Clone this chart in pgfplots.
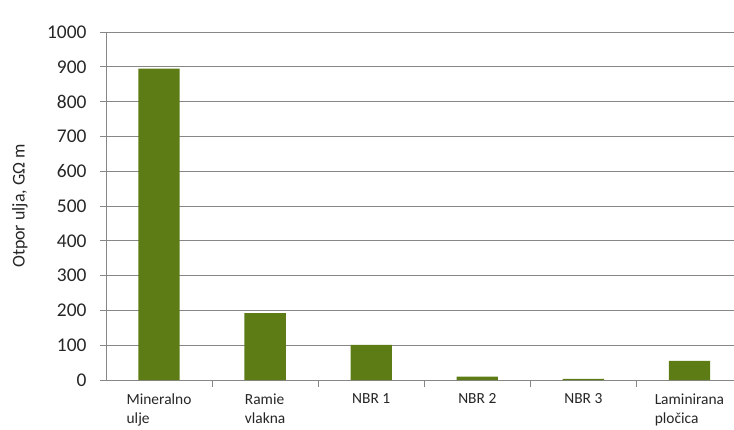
\documentclass[border=0pt]{standalone}
\usepackage{pgfplots}
\pgfplotsset{compat=1.18}
\usepackage{fontspec}
\setmainfont{Carlito}
\usetikzlibrary{calc}
\definecolor{bargreen}{RGB}{94,124,22}
\definecolor{gridgray}{RGB}{135,135,135}
\begin{document}
\begin{tikzpicture}
\begin{axis}[
  scale only axis,
  width=628bp, height=348bp,
  xmin=-0.5, xmax=5.42,
  ymin=0, ymax=1000,
  ytick={0,100,...,1000},
  xtick={0,1,2,3,4,5},
  xticklabels={{Mineralno\\ulje},{Ramie\\vlakna},{NBR 1},{NBR 2},{NBR 3},{Laminirana\\pločica}},
  minor xtick={0.5,1.5,2.5,3.5,4.5},
  axis x line*=bottom,
  axis y line*=left,
  axis line style={gridgray, line width=0.8pt, -},
  ymajorgrids,
  grid style={gridgray, line width=0.8pt},
  tick align=outside,
  major x tick style={draw=none},
  minor x tick style={gridgray, line width=0.8pt},
  minor tick length=7bp,
  major y tick style={gridgray, line width=0.8pt},
  major tick length=6bp,
  /pgf/number format/assume math mode=true,
  /pgf/number format/1000 sep={},
  yticklabel style={font=\fontsize{19.5}{22}\selectfont, text=black!85, xshift=-10bp},
  xticklabel style={font=\fontsize{15.5}{19}\selectfont, text=black!85, align=left, yshift=-4bp},
  ylabel={Otpor ulja, GΩ m},
  every axis y label/.style={at={(axis description cs:-0.137,0.5)}, rotate=90, anchor=center, font=\fontsize{18}{21}\selectfont, text=black!85},
  ybar, bar width=0.39, bar shift=0pt,
]
\addplot[fill=bargreen, draw=none] coordinates {(0,895) (1,192) (2,101) (3,10) (4,3) (5,55)};
\end{axis}
\pgfresetboundingbox
\path[use as bounding box] ($(current axis.south west)+(-106bp,-50bp)$) rectangle ($(current axis.north east)+(0,32bp)$);
\end{tikzpicture}
\end{document}
